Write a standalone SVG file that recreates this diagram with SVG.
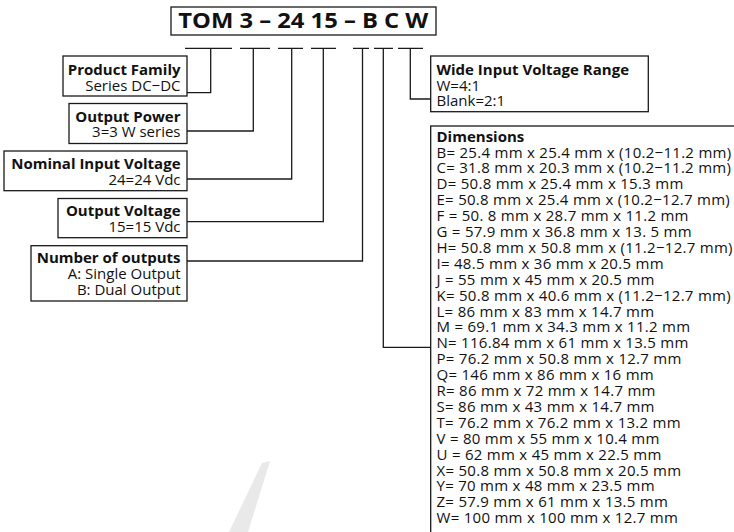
<svg xmlns="http://www.w3.org/2000/svg" width="734" height="532" viewBox="0 0 734 532">
<style>
.box{fill:#fff;stroke:#1a1a1a;stroke-width:1.3}
.ln{fill:none;stroke:#1a1a1a;stroke-width:1.3}
text{font-family:"Open Sans","Noto Sans","Liberation Sans",sans-serif;fill:#111;font-size:15px}
.b{font-weight:700}
.r{text-anchor:end}
.d{letter-spacing:0.28px}
.title{font-weight:700;font-size:21.5px}
</style>
<rect width="734" height="532" fill="#fff"/>
<polygon points="262,463 270,461 248,532 229,532" fill="#e9e9e9"/>
<g id="title">
<rect class="box" x="171" y="7" width="265" height="28"/>
<text class="title" x="178.3" y="28" textLength="250" lengthAdjust="spacingAndGlyphs">TOM 3 – 24 15 – B C W</text>
</g>
<g id="connectors">
<path class="ln" d="M185,48.3H232M240,48.3H270M278,48.3H303M311,48.3H336M353,48.3H369M374,48.3H393M398,48.3H423"/>
<path class="ln" d="M210.7,48.3V92.7H187"/>
<path class="ln" d="M253.3,48.3V131H187"/>
<path class="ln" d="M291.7,48.3V179H187"/>
<path class="ln" d="M323.3,48.3V221.7H187"/>
<path class="ln" d="M362.5,48.3V261H187"/>
<path class="ln" d="M383.3,48.3V347.3H430.7"/>
<path class="ln" d="M410.3,48.3V99H430.7"/>
</g>
<g id="product-family">
<rect class="box" x="63" y="56" width="124" height="40"/>
<text class="b r" x="180.5" y="75">Product Family</text>
<text class="r" x="180.5" y="90.7">Series DC−DC</text>
</g>
<g id="output-power">
<rect class="box" x="69" y="103.5" width="118" height="40"/>
<text class="b r" x="180.5" y="121.7">Output Power</text>
<text class="r" x="180.5" y="137.3">3=3 W series</text>
</g>
<g id="nominal-input-voltage">
<rect class="box" x="4" y="151" width="183" height="39.7"/>
<text class="b r" x="180.5" y="169">Nominal Input Voltage</text>
<text class="r" x="180.5" y="184.5">24=24 Vdc</text>
</g>
<g id="output-voltage">
<rect class="box" x="58" y="198.5" width="129" height="39.2"/>
<text class="b r" x="180.5" y="215.7">Output Voltage</text>
<text class="r" x="180.5" y="231.7">15=15 Vdc</text>
</g>
<g id="number-of-outputs">
<rect class="box" x="31" y="245.7" width="156" height="55.3"/>
<text class="b r" x="180.5" y="263.3">Number of outputs</text>
<text class="r" x="180.5" y="279.3">A: Single Output</text>
<text class="r" x="180.5" y="295">B: Dual Output</text>
</g>
<g id="wide-input">
<rect class="box" x="430.7" y="56" width="217.6" height="55.7"/>
<text class="b" x="436.5" y="75">Wide Input Voltage Range</text>
<text x="436.5" y="90.7">W=4:1</text>
<text x="436.5" y="106">Blank=2:1</text>
</g>
<g id="dimensions">
<rect class="box" x="430.7" y="126" width="330" height="430"/>
<text class="b" x="436.5" y="141.5">Dimensions</text>
<text class="d" x="436.5" y="157.5">B= 25.4 mm x 25.4 mm x (10.2−11.2 mm)</text>
<text class="d" x="436.5" y="173.4">C= 31.8 mm x 20.3 mm x (10.2−11.2 mm)</text>
<text class="d" x="436.5" y="189.3">D= 50.8 mm x 25.4 mm x 15.3 mm</text>
<text class="d" x="436.5" y="205.2">E= 50.8 mm x 25.4 mm x (10.2−12.7 mm)</text>
<text class="d" x="436.5" y="221.1">F = 50. 8 mm x 28.7 mm x 11.2 mm</text>
<text class="d" x="436.5" y="237">G = 57.9 mm x 36.8 mm x 13. 5 mm</text>
<text class="d" x="436.5" y="252.9">H= 50.8 mm x 50.8 mm x (11.2−12.7 mm)</text>
<text class="d" x="436.5" y="268.8">I= 48.5 mm x 36 mm x 20.5 mm</text>
<text class="d" x="436.5" y="284.7">J = 55 mm x 45 mm x 20.5 mm</text>
<text class="d" x="436.5" y="300.6">K= 50.8 mm x 40.6 mm x (11.2−12.7 mm)</text>
<text class="d" x="436.5" y="316.5">L= 86 mm x 83 mm x 14.7 mm</text>
<text class="d" x="436.5" y="332.4">M = 69.1 mm x 34.3 mm x 11.2 mm</text>
<text class="d" x="436.5" y="348.3">N= 116.84 mm x 61 mm x 13.5 mm</text>
<text class="d" x="436.5" y="364.2">P= 76.2 mm x 50.8 mm x 12.7 mm</text>
<text class="d" x="436.5" y="380.1">Q= 146 mm x 86 mm x 16 mm</text>
<text class="d" x="436.5" y="396">R= 86 mm x 72 mm x 14.7 mm</text>
<text class="d" x="436.5" y="411.9">S= 86 mm x 43 mm x 14.7 mm</text>
<text class="d" x="436.5" y="427.8">T= 76.2 mm x 76.2 mm x 13.2 mm</text>
<text class="d" x="436.5" y="443.7">V = 80 mm x 55 mm x 10.4 mm</text>
<text class="d" x="436.5" y="459.6">U = 62 mm x 45 mm x 22.5 mm</text>
<text class="d" x="436.5" y="475.5">X= 50.8 mm x 50.8 mm x 20.5 mm</text>
<text class="d" x="436.5" y="491.4">Y= 70 mm x 48 mm x 23.5 mm</text>
<text class="d" x="436.5" y="507.3">Z= 57.9 mm x 61 mm x 13.5 mm</text>
<text class="d" x="436.5" y="523.2">W= 100 mm x 100 mm x 12.7 mm</text>
</g>
</svg>
